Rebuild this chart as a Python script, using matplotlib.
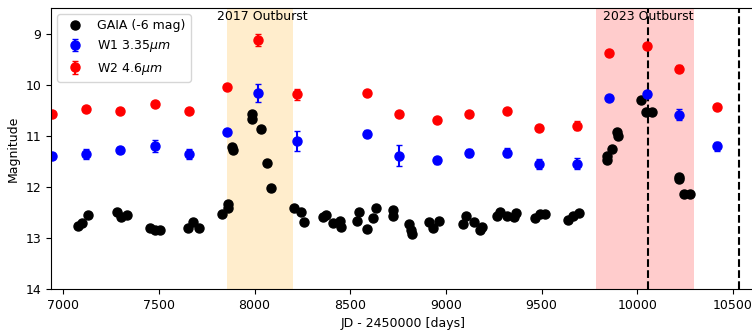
import matplotlib
matplotlib.use("Agg")
import matplotlib.pyplot as plt
import numpy as np

plt.rcParams["font.size"] = 9

# GAIA (already shifted by -6 mag)
gaia_jd = [7075, 7096, 7131, 7279, 7302, 7331, 7453, 7479, 7506, 7654, 7680, 7711,
           7828, 7860, 7862, 7880, 7885, 7985, 7987, 8032, 8063, 8084,
           8206, 8241, 8259, 8359, 8374, 8408, 8447, 8452, 8534, 8546, 8586, 8621, 8635,
           8722, 8723, 8809, 8818, 8821, 8913, 8931, 8966, 9091, 9105, 9144, 9179, 9188,
           9269, 9283, 9318, 9357, 9367, 9466, 9489, 9519, 9640, 9666, 9696,
           9841, 9844, 9867, 9896, 9898, 10019, 10045, 10076, 10219, 10220, 10242, 10273]
gaia_mag = [12.77, 12.70, 12.55, 12.49, 12.60, 12.55, 12.80, 12.84, 12.84, 12.81, 12.69, 12.80,
            12.54, 12.34, 12.42, 11.22, 11.27, 10.57, 10.68, 10.87, 11.54, 12.03,
            12.42, 12.49, 12.69, 12.59, 12.56, 12.70, 12.67, 12.79, 12.67, 12.50, 12.82, 12.62, 12.42,
            12.46, 12.57, 12.72, 12.85, 12.93, 12.69, 12.80, 12.67, 12.73, 12.58, 12.69, 12.85, 12.79,
            12.57, 12.50, 12.58, 12.60, 12.52, 12.62, 12.54, 12.54, 12.65, 12.58, 12.52,
            11.39, 11.48, 11.25, 10.92, 11.00, 10.30, 10.54, 10.54, 11.80, 11.85, 12.14, 12.14]

# WISE epochs
wise_jd = [6940, 7121, 7296, 7482, 7658, 7854, 8020, 8220, 8586, 8752, 8952, 9118,
           9318, 9484, 9684, 9850, 10050, 10216, 10416]
w1_mag = [11.39, 11.35, 11.28, 11.20, 11.35, 10.92, 10.16, 11.10, 10.96, 11.39, 11.48, 11.33,
          11.33, 11.55, 11.55, 10.27, 10.18, 10.59, 11.21]
w1_err = [0.06, 0.10, 0.06, 0.11, 0.10, 0.06, 0.18, 0.20, 0.07, 0.20, 0.07, 0.08,
          0.09, 0.10, 0.11, 0.04, 0.05, 0.11, 0.09]
w2_mag = [10.57, 10.47, 10.51, 10.38, 10.52, 10.04, 9.13, 10.19, 10.17, 10.57, 10.70, 10.57,
          10.51, 10.85, 10.80, 9.39, 9.24, 9.69, 10.44]
w2_err = [0.03, 0.03, 0.03, 0.04, 0.03, 0.04, 0.12, 0.11, 0.03, 0.03, 0.04, 0.04,
          0.04, 0.04, 0.08, 0.03, 0.03, 0.07, 0.03]

outbursts = [(7855, 8200, "2017 Outburst", "orange"), (9786, 10298, "2023 Outburst", "red")]
vlines = [10055, 10530]

fig = plt.figure(figsize=(7.52, 3.34), dpi=100)
ax = fig.add_axes([51/752, 45/334, (756-51)/752, (289-8)/334])

for x0, x1, lab, col in outbursts:
    ax.axvspan(x0, x1, color=col, alpha=0.2, lw=0)
    ax.text((x0 + x1) / 2 + 15, 8.53, lab, ha="center", va="top")
for v in vlines:
    ax.axvline(v, color="black", ls="--", lw=1.5)

ax.plot(gaia_jd, gaia_mag, "o", color="black", ms=6.5, label="GAIA (-6 mag)")
ax.errorbar(wise_jd, w1_mag, yerr=w1_err, fmt="o", color="blue", ms=6.5, capsize=2.5,
            label=r"W1 3.35$\mu m$")
ax.errorbar(wise_jd, w2_mag, yerr=w2_err, fmt="o", color="red", ms=6.5, capsize=2.5,
            label=r"W2 4.6$\mu m$")

ax.set_xlim(6936, 10620)
ax.set_ylim(14, 8.5)
ax.set_xticks([7000, 7500, 8000, 8500, 9000, 9500, 10000, 10500])
ax.set_yticks([9, 10, 11, 12, 13, 14])
ax.set_xlabel("JD - 2450000 [days]")
ax.set_ylabel("Magnitude")
ax.legend(loc="upper left")

fig.savefig("out.png", dpi=100)
